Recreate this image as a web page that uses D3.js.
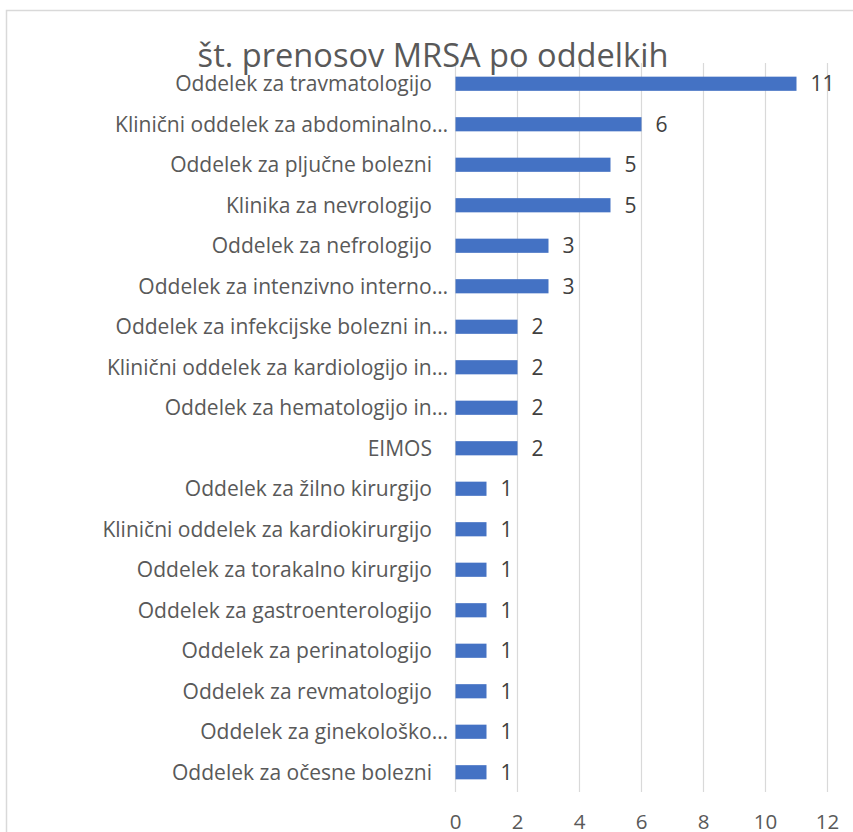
<!DOCTYPE html>
<html><head><meta charset="utf-8">
<script src="https://cdn.jsdelivr.net/npm/d3@7"></script>
<style>body{margin:0;background:#fff}svg{display:block}</style>
</head><body>
<svg id="c" width="853" height="832"></svg>
<script>
const titleText = "št. prenosov MRSA po oddelkih";
const categories = [
  "Oddelek za travmatologijo",
  "Klinični oddelek za abdominalno…",
  "Oddelek za pljučne bolezni",
  "Klinika za nevrologijo",
  "Oddelek za nefrologijo",
  "Oddelek za intenzivno interno…",
  "Oddelek za infekcijske bolezni in…",
  "Klinični oddelek za kardiologijo in…",
  "Oddelek za hematologijo in…",
  "EIMOS",
  "Oddelek za žilno kirurgijo",
  "Klinični oddelek za kardiokirurgijo",
  "Oddelek za torakalno kirurgijo",
  "Oddelek za gastroenterologijo",
  "Oddelek za perinatologijo",
  "Oddelek za revmatologijo",
  "Oddelek za ginekološko…",
  "Oddelek za očesne bolezni"
];
const values = [11, 6, 5, 5, 3, 3, 2, 2, 2, 2, 1, 1, 1, 1, 1, 1, 1, 1];
const xTicks = [0, 2, 4, 6, 8, 10, 12];

const svg = d3.select("#c");
const FONT = "'Open Sans', sans-serif";

function fitSize(text, target, base) {
  const t = svg.append("text").attr("font-family", FONT).attr("font-size", base).text(text);
  const w = t.node().getComputedTextLength();
  t.remove();
  return base * target / w;
}
const titleSize = fitSize(titleText, 471, 30);
const labelSize = fitSize("Oddelek za travmatologijo", 257, 20);
const tickSize = fitSize("12", 23.5, 20);

// chart border
svg.append("rect").attr("x", 6.5).attr("y", 10.5).attr("width", 900).attr("height", 900)
  .attr("fill", "none").attr("stroke", "#d9d9d9").attr("stroke-width", 1.5);

const x = d3.scaleLinear().domain([0, 12]).range([455.5, 827.5]);
const y = d3.scaleBand().domain(categories).range([63.5, 792.5]).paddingInner(0.65).paddingOuter(0.325);

// gridlines
svg.append("g").selectAll("line").data(xTicks).join("line")
  .attr("x1", d => x(d)).attr("x2", d => x(d))
  .attr("y1", 63).attr("y2", 792)
  .attr("stroke", "#d9d9d9").attr("stroke-width", 1.2);

// bars
svg.append("g").selectAll("rect").data(values).join("rect")
  .attr("x", x(0)).attr("y", (d, i) => y(categories[i]))
  .attr("width", d => x(d) - x(0)).attr("height", y.bandwidth())
  .attr("fill", "#4472c4");

// data labels
svg.append("g").selectAll("text").data(values).join("text")
  .attr("x", d => x(d) + 14).attr("y", (d, i) => y(categories[i]) + y.bandwidth() / 2)
  .attr("dy", "0.36em")
  .attr("font-family", FONT).attr("font-size", labelSize).attr("fill", "#404040")
  .text(d => d);

// category labels
svg.append("g").selectAll("text").data(categories).join("text")
  .attr("x", d => d.endsWith("…") ? 448 : 432)
  .attr("y", d => y(d) + y.bandwidth() / 2)
  .attr("dy", "0.36em").attr("text-anchor", "end")
  .attr("font-family", FONT).attr("font-size", labelSize).attr("fill", "#595959")
  .text(d => d);

// x axis tick labels
svg.append("g").selectAll("text").data(xTicks).join("text")
  .attr("x", d => x(d)).attr("y", 829)
  .attr("text-anchor", "middle")
  .attr("font-family", FONT).attr("font-size", tickSize).attr("fill", "#595959")
  .text(d => d);

// title
svg.append("text").attr("x", 433).attr("y", 67).attr("text-anchor", "middle")
  .attr("font-family", FONT).attr("font-size", titleSize).attr("fill", "#595959")
  .text(titleText);
</script>
</body></html>
